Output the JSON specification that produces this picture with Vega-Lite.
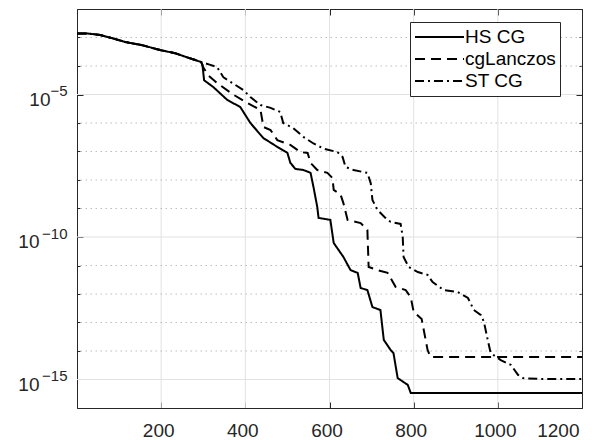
{
  "$schema": "https://vega.github.io/schema/vega-lite/v6.json",
  "width": 505,
  "height": 399,
  "autosize": {"type": "none"},
  "padding": {"left": 77, "top": 9, "right": 20, "bottom": 32},
  "background": "white",
  "config": {
    "view": {"stroke": null},
    "font": "Liberation Sans",
    "axis": {"domainColor": "#262626", "tickColor": "#262626", "labelColor": "#262626", "labelFont": "Liberation Sans", "labelFontSize": 19, "grid": false, "title": null, "domainWidth": 1, "tickWidth": 1}
  },
  "datasets": {
    "xgrid": [{"x": 200}, {"x": 400}, {"x": 600}, {"x": 800}, {"x": 1000}],
    "ymajor": [{"v": 1e-5}, {"v": 1e-10}, {"v": 1e-15}],
    "yminor": [{"v": 1e-3}, {"v": 1e-4}, {"v": 1e-6}, {"v": 1e-7}, {"v": 1e-8}, {"v": 1e-9}, {"v": 1e-11}, {"v": 1e-12}, {"v": 1e-13}, {"v": 1e-14}],
    "series": [
      {"s": "HS CG", "x": 0, "y": 1.38e-3}, {"s": "HS CG", "x": 25, "y": 1.38e-3}, {"s": "HS CG", "x": 55, "y": 1.23e-3}, {"s": "HS CG", "x": 85, "y": 9.33e-4}, {"s": "HS CG", "x": 115, "y": 6.92e-4}, {"s": "HS CG", "x": 155, "y": 5.37e-4}, {"s": "HS CG", "x": 200, "y": 3.55e-4}, {"s": "HS CG", "x": 233, "y": 2.82e-4}, {"s": "HS CG", "x": 262, "y": 2.0e-4}, {"s": "HS CG", "x": 281, "y": 1.62e-4}, {"s": "HS CG", "x": 295, "y": 1.38e-4},
      {"s": "HS CG", "x": 298, "y": 1.12e-4}, {"s": "HS CG", "x": 302, "y": 3.16e-5}, {"s": "HS CG", "x": 324, "y": 1.82e-5}, {"s": "HS CG", "x": 357, "y": 6.46e-6}, {"s": "HS CG", "x": 388, "y": 3.63e-6}, {"s": "HS CG", "x": 412, "y": 1.0e-6}, {"s": "HS CG", "x": 443, "y": 2.95e-7}, {"s": "HS CG", "x": 476, "y": 1.45e-7}, {"s": "HS CG", "x": 500, "y": 8.91e-8}, {"s": "HS CG", "x": 507, "y": 3.98e-8}, {"s": "HS CG", "x": 519, "y": 2.45e-8}, {"s": "HS CG", "x": 538, "y": 2.24e-8}, {"s": "HS CG", "x": 555, "y": 1.78e-8}, {"s": "HS CG", "x": 562, "y": 5.62e-9}, {"s": "HS CG", "x": 571, "y": 1.12e-9}, {"s": "HS CG", "x": 574, "y": 4.68e-10}, {"s": "HS CG", "x": 602, "y": 3.98e-10}, {"s": "HS CG", "x": 610, "y": 6.17e-11}, {"s": "HS CG", "x": 633, "y": 2.0e-11}, {"s": "HS CG", "x": 650, "y": 6.92e-12}, {"s": "HS CG", "x": 667, "y": 5.5e-12}, {"s": "HS CG", "x": 674, "y": 1.62e-12}, {"s": "HS CG", "x": 690, "y": 1.38e-12}, {"s": "HS CG", "x": 702, "y": 3.47e-13}, {"s": "HS CG", "x": 721, "y": 2.75e-13}, {"s": "HS CG", "x": 729, "y": 2.45e-14}, {"s": "HS CG", "x": 745, "y": 1.1e-14}, {"s": "HS CG", "x": 752, "y": 8.51e-15}, {"s": "HS CG", "x": 762, "y": 1.12e-15}, {"s": "HS CG", "x": 776, "y": 8.13e-16}, {"s": "HS CG", "x": 786, "y": 6.46e-16}, {"s": "HS CG", "x": 793, "y": 3.39e-16}, {"s": "HS CG", "x": 1200, "y": 3.39e-16},
      {"s": "cgLanczos", "x": 0, "y": 1.38e-3}, {"s": "cgLanczos", "x": 25, "y": 1.38e-3}, {"s": "cgLanczos", "x": 55, "y": 1.23e-3}, {"s": "cgLanczos", "x": 85, "y": 9.33e-4}, {"s": "cgLanczos", "x": 115, "y": 6.92e-4}, {"s": "cgLanczos", "x": 155, "y": 5.37e-4}, {"s": "cgLanczos", "x": 200, "y": 3.55e-4}, {"s": "cgLanczos", "x": 233, "y": 2.82e-4}, {"s": "cgLanczos", "x": 262, "y": 2.0e-4}, {"s": "cgLanczos", "x": 281, "y": 1.62e-4}, {"s": "cgLanczos", "x": 295, "y": 1.38e-4},
      {"s": "cgLanczos", "x": 300, "y": 9.12e-5}, {"s": "cgLanczos", "x": 310, "y": 5.01e-5}, {"s": "cgLanczos", "x": 333, "y": 2.51e-5}, {"s": "cgLanczos", "x": 371, "y": 1.0e-5}, {"s": "cgLanczos", "x": 405, "y": 5.01e-6}, {"s": "cgLanczos", "x": 436, "y": 2.88e-6}, {"s": "cgLanczos", "x": 443, "y": 7.24e-7}, {"s": "cgLanczos", "x": 460, "y": 5.62e-7}, {"s": "cgLanczos", "x": 476, "y": 2.51e-7}, {"s": "cgLanczos", "x": 507, "y": 1.7e-7}, {"s": "cgLanczos", "x": 531, "y": 9.55e-8}, {"s": "cgLanczos", "x": 548, "y": 8.91e-8}, {"s": "cgLanczos", "x": 555, "y": 3.98e-8}, {"s": "cgLanczos", "x": 571, "y": 2.24e-8}, {"s": "cgLanczos", "x": 595, "y": 1.78e-8}, {"s": "cgLanczos", "x": 607, "y": 1.17e-8}, {"s": "cgLanczos", "x": 610, "y": 4.47e-9}, {"s": "cgLanczos", "x": 626, "y": 3.16e-9}, {"s": "cgLanczos", "x": 633, "y": 1.55e-9}, {"s": "cgLanczos", "x": 643, "y": 3.98e-10}, {"s": "cgLanczos", "x": 674, "y": 3.09e-10}, {"s": "cgLanczos", "x": 690, "y": 1.78e-10}, {"s": "cgLanczos", "x": 693, "y": 8.91e-12}, {"s": "cgLanczos", "x": 714, "y": 6.92e-12}, {"s": "cgLanczos", "x": 738, "y": 5.5e-12}, {"s": "cgLanczos", "x": 757, "y": 1.78e-12}, {"s": "cgLanczos", "x": 781, "y": 1.38e-12}, {"s": "cgLanczos", "x": 793, "y": 7.76e-13}, {"s": "cgLanczos", "x": 800, "y": 2.34e-13}, {"s": "cgLanczos", "x": 819, "y": 1.32e-13}, {"s": "cgLanczos", "x": 833, "y": 1.1e-14}, {"s": "cgLanczos", "x": 840, "y": 6.17e-15}, {"s": "cgLanczos", "x": 1200, "y": 6.17e-15},
      {"s": "ST CG", "x": 0, "y": 1.38e-3}, {"s": "ST CG", "x": 25, "y": 1.38e-3}, {"s": "ST CG", "x": 55, "y": 1.23e-3}, {"s": "ST CG", "x": 85, "y": 9.33e-4}, {"s": "ST CG", "x": 115, "y": 6.92e-4}, {"s": "ST CG", "x": 155, "y": 5.37e-4}, {"s": "ST CG", "x": 200, "y": 3.55e-4}, {"s": "ST CG", "x": 233, "y": 2.82e-4}, {"s": "ST CG", "x": 262, "y": 2.0e-4}, {"s": "ST CG", "x": 281, "y": 1.62e-4}, {"s": "ST CG", "x": 295, "y": 1.38e-4},
      {"s": "ST CG", "x": 315, "y": 1.12e-4}, {"s": "ST CG", "x": 333, "y": 9.12e-5}, {"s": "ST CG", "x": 348, "y": 3.98e-5}, {"s": "ST CG", "x": 395, "y": 1.45e-5}, {"s": "ST CG", "x": 412, "y": 8.13e-6}, {"s": "ST CG", "x": 436, "y": 4.27e-6}, {"s": "ST CG", "x": 460, "y": 3.39e-6}, {"s": "ST CG", "x": 483, "y": 2.45e-6}, {"s": "ST CG", "x": 490, "y": 1.0e-6}, {"s": "ST CG", "x": 514, "y": 6.61e-7}, {"s": "ST CG", "x": 538, "y": 3.24e-7}, {"s": "ST CG", "x": 562, "y": 1.91e-7}, {"s": "ST CG", "x": 586, "y": 1.26e-7}, {"s": "ST CG", "x": 619, "y": 9.55e-8}, {"s": "ST CG", "x": 631, "y": 6.46e-8}, {"s": "ST CG", "x": 638, "y": 2.88e-8}, {"s": "ST CG", "x": 657, "y": 2.24e-8}, {"s": "ST CG", "x": 690, "y": 1.78e-8}, {"s": "ST CG", "x": 698, "y": 7.76e-9}, {"s": "ST CG", "x": 702, "y": 2.0e-9}, {"s": "ST CG", "x": 714, "y": 8.91e-10}, {"s": "ST CG", "x": 733, "y": 4.68e-10}, {"s": "ST CG", "x": 745, "y": 3.39e-10}, {"s": "ST CG", "x": 769, "y": 2.88e-10}, {"s": "ST CG", "x": 774, "y": 1.0e-10}, {"s": "ST CG", "x": 776, "y": 2.0e-11}, {"s": "ST CG", "x": 788, "y": 8.91e-12}, {"s": "ST CG", "x": 810, "y": 5.89e-12}, {"s": "ST CG", "x": 833, "y": 4.68e-12}, {"s": "ST CG", "x": 845, "y": 2.63e-12}, {"s": "ST CG", "x": 871, "y": 1.38e-12}, {"s": "ST CG", "x": 905, "y": 1.17e-12}, {"s": "ST CG", "x": 929, "y": 7.24e-13}, {"s": "ST CG", "x": 943, "y": 2.75e-13}, {"s": "ST CG", "x": 960, "y": 1.82e-13}, {"s": "ST CG", "x": 967, "y": 1.05e-13}, {"s": "ST CG", "x": 976, "y": 2.45e-14}, {"s": "ST CG", "x": 983, "y": 8.51e-15}, {"s": "ST CG", "x": 1007, "y": 4.79e-15}, {"s": "ST CG", "x": 1031, "y": 3.24e-15}, {"s": "ST CG", "x": 1048, "y": 1.45e-15}, {"s": "ST CG", "x": 1060, "y": 1.12e-15}, {"s": "ST CG", "x": 1095, "y": 1.05e-15}, {"s": "ST CG", "x": 1200, "y": 1.05e-15}
    ]
  },
  "layer": [
    {
      "data": {"name": "xgrid"},
      "mark": {"type": "rule", "color": "#e2e2e2", "strokeWidth": 1},
      "encoding": {
        "x": {"field": "x", "type": "quantitative", "scale": {"domain": [0, 1200], "nice": false, "zero": false},
              "axis": {"orient": "top", "values": [200, 400, 600, 800, 1000, 1200], "labels": false, "tickSize": -6, "domain": true}}
      }
    },
    {
      "data": {"name": "ymajor"},
      "mark": {"type": "rule", "color": "#e2e2e2", "strokeWidth": 1},
      "encoding": {
        "y": {"field": "v", "type": "quantitative", "scale": {"type": "log", "domain": [1e-16, 1e-2], "nice": false},
              "axis": {"orient": "right", "values": [1e-16, 1e-15, 1e-14, 1e-13, 1e-12, 1e-11, 1e-10, 1e-9, 1e-8, 1e-7, 1e-6, 1e-5, 1e-4, 1e-3, 1e-2], "labels": false, "domain": true,
                       "tickSize": {"condition": {"test": "round(log(datum.value)/LN10) % 5 == 0", "value": -6}, "value": -3}}}
      }
    },
    {
      "data": {"name": "yminor"},
      "mark": {"type": "rule", "color": "#bcbcbc", "strokeWidth": 1, "strokeDash": [1.5, 3.5]},
      "encoding": {
        "y": {"field": "v", "type": "quantitative",
              "axis": {"orient": "left", "values": [1e-5, 1e-10, 1e-15], "ticks": false, "domain": false, "labelFontSize": 15, "labelAlign": "right", "labelPadding": 10, "labelOffset": -4,
                       "labelExpr": "round(log(datum.value)/LN10) == -5 ? '−5' : round(log(datum.value)/LN10) == -10 ? '−10' : '−15'"}}
      }
    },
    {
      "data": {"name": "series"},
      "mark": {"type": "line", "color": "black", "strokeWidth": 2, "clip": true},
      "encoding": {
        "x": {"field": "x", "type": "quantitative", "scale": {"domain": [0, 1200], "nice": false, "zero": false},
              "axis": {"orient": "bottom", "values": [200, 400, 600, 800, 1000, 1200], "format": "d", "tickSize": -6, "labelPadding": 19, "labelOffset": -3}},
        "y": {"field": "y", "type": "quantitative", "scale": {"type": "log", "domain": [1e-16, 1e-2], "nice": false},
              "axis": {"orient": "left", "values": [1e-16, 1e-15, 1e-14, 1e-13, 1e-12, 1e-11, 1e-10, 1e-9, 1e-8, 1e-7, 1e-6, 1e-5, 1e-4, 1e-3, 1e-2],
                       "labelPadding": {"condition": {"test": "round(log(datum.value)/LN10) == -5", "value": 33}, "value": 44},
                       "labelOffset": 4.5,
                       "tickSize": {"condition": {"test": "round(log(datum.value)/LN10) % 5 == 0", "value": -6}, "value": -3},
                       "labelExpr": "round(log(datum.value)/LN10) % 5 == 0 ? '10' : ''"}},
        "strokeDash": {"field": "s", "type": "nominal",
                       "scale": {"domain": ["HS CG", "cgLanczos", "ST CG"], "range": [[1, 0], [10, 6], [9, 4, 2, 4]]},
                       "legend": {"title": null, "orient": "none", "legendX": 333, "legendY": 13, "symbolType": "stroke", "symbolSize": 2401, "symbolStrokeWidth": 2, "symbolStrokeColor": "black",
                                  "labelFontSize": 19, "labelFont": "Liberation Sans", "labelColor": "black", "fillColor": "white", "strokeColor": "#262626", "padding": 4, "clipHeight": 22, "labelOffset": 0, "rowPadding": 0}}
      }
    }
  ],
  "resolve": {"axis": {"x": "independent", "y": "independent"}}
}
